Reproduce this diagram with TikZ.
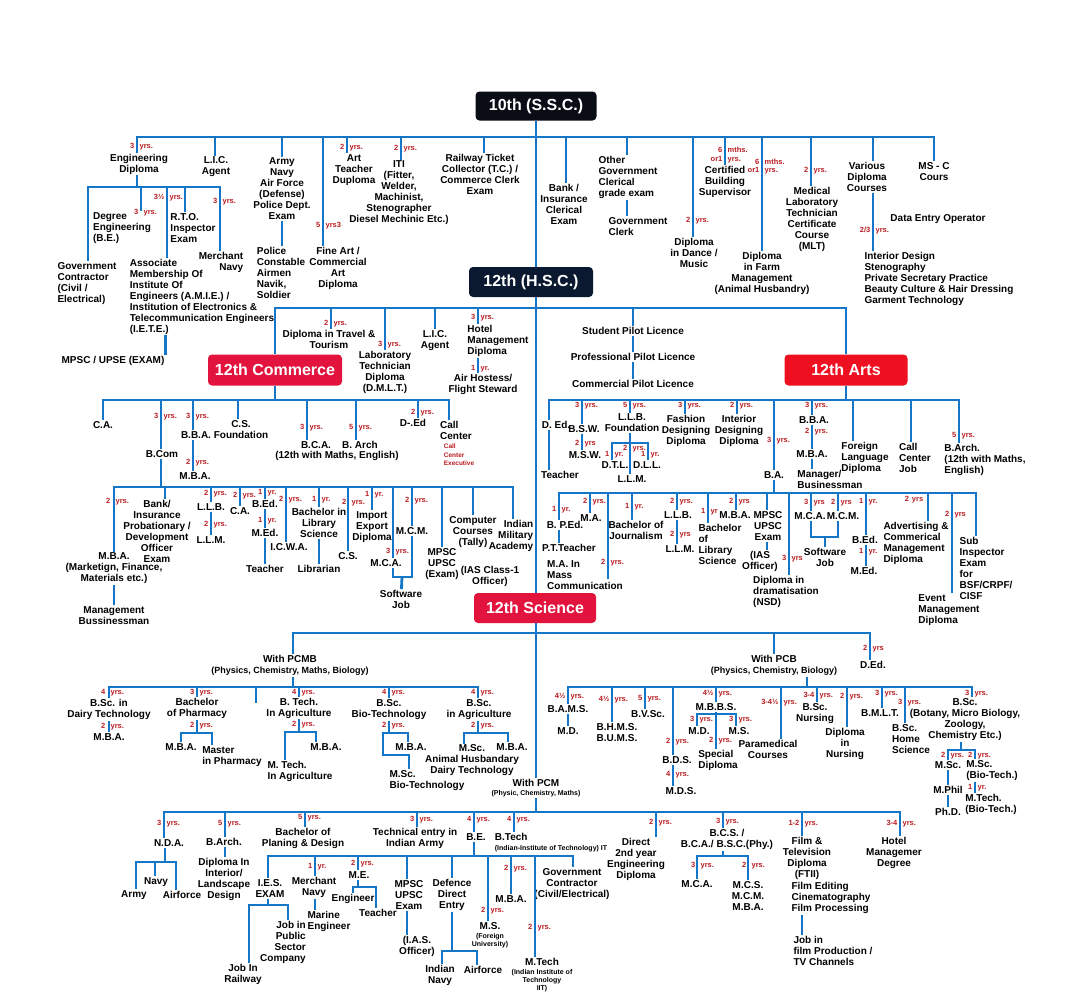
\documentclass[tikz,border=0pt]{standalone}
\usepackage{fontspec}
\setmainfont{Liberation Sans}
\usepackage{xcolor}
\definecolor{linkblue}{RGB}{20,118,198}
\definecolor{durred}{RGB}{185,30,35}
\definecolor{sscblack}{RGB}{10,12,22}
\definecolor{hscnavy}{RGB}{10,24,48}
\definecolor{streamred}{RGB}{226,20,62}
\definecolor{artsred}{RGB}{238,16,32}
\newcommand\dd[2]{\llap{#1\hspace{2.6pt}}\rlap{\hspace{2.6pt}#2}}
\newcommand\sm{\fontsize{7}{8}\selectfont}

\begin{document}
\begin{tikzpicture}[
  x=1pt, y=-1pt,
  stream/.style={rounded corners=4pt, text=white, font=\fontsize{16}{18}\selectfont\bfseries, inner sep=2pt},
  course/.style={font=\fontsize{10}{11}\selectfont\bfseries, align=center, inner sep=1pt},
  coursel/.style={course, align=left},
  courser/.style={course, align=right},
  dur/.style={text=durred, font=\fontsize{7.5}{8}\selectfont\bfseries, inner sep=0pt},
  link/.style={draw=linkblue, line width=2.8pt}
]
  \fill[white] (0,0) rectangle (1080,996);
  \useasboundingbox (0,0) rectangle (1080,996);

  \node[stream, fill=sscblack, minimum width=121pt, minimum height=29pt] (ssc) at (536,106) {10th (S.S.C.)};
  \node[stream, fill=hscnavy, minimum width=124pt, minimum height=30pt] (hsc) at (531,282) {12th (H.S.C.)};
  \node[stream, fill=streamred, minimum width=134pt, minimum height=31pt] (com) at (275,370) {12th Commerce};
  \node[stream, fill=artsred, minimum width=123pt, minimum height=31pt] (arts) at (846,370) {12th Arts};
  \node[stream, fill=streamred, minimum width=122pt, minimum height=30pt] (sci) at (535,608) {12th Science};

  \coordinate (j10) at (536,137);
  \coordinate (jeng) at (137,187);
  \coordinate (jhsc) at (536,308);
  \coordinate (jcom) at (275,400);
  \coordinate (jbcom) at (161,487);
  \coordinate (jsw1) at (402,577);
  \coordinate (jarts) at (846,400);
  \coordinate (jllb) at (630,443);
  \coordinate (jba) at (774,493);
  \coordinate (jsw2) at (825,537);
  \coordinate (jsci) at (536,633);
  \coordinate (jpcmb) at (293,687);
  \coordinate (jbph) at (197,733);
  \coordinate (stub) at (256,703);
  \coordinate (jbtag) at (299,732);
  \coordinate (jbsbt) at (389,733);
  \coordinate (jmsc1) at (383,755);
  \coordinate (jbsag) at (478,733);
  \coordinate (jpcb) at (807,687);
  \coordinate (jmbbs) at (716,714);
  \coordinate (jbscb) at (961,750);
  \coordinate (jpcm) at (536,812);
  \coordinate (jnda) at (165,862);
  \coordinate (jbcs) at (723,856);
  \coordinate (jbe) at (474,856);
  \coordinate (jies) at (268,905);
  \coordinate (jme) at (358,887);
  \coordinate (jdef) at (452,951);

  \node[course] (eng) at (139,164) {Engineering\\Diploma};
  \node[course] (lic1) at (216,167) {L.I.C.\\Agent};
  \node[course] (army) at (282,189) {Army\\Navy\\Air Force\\(Defense)\\Police Dept.\\Exam};
  \node[coursel] (police) at (281,273) {Police\\Constable\\Airmen\\Navik,\\Soldier};
  \node[course] (fine) at (338,268) {Fine Art /\\Commercial\\Art\\Diploma};
  \node[course] (artt) at (354,170) {Art\\Teacher\\Duploma};
  \node[course] (iti) at (399,193) {ITI\\(Fitter,\\Welder,\\Machinist,\\Stenographer\\Diesel Mechinic Etc.)};
  \node[course] (rail) at (480,174.5) {Railway Ticket\\Collector (T.C.) /\\Commerce Clerk\\Exam};
  \node[course] (bank) at (564,204) {Bank /\\Insurance\\Clerical\\Exam};
  \node[coursel] (othgov) at (628,177.5) {Other\\Government\\Clerical\\grade exam};
  \node[coursel] (gclerk) at (638,226.5) {Government\\Clerk};
  \node[course] (dance) at (694,253) {Diploma\\in Dance /\\Music};
  \node[course] (cert) at (725,182) {Certified\\Building\\Supervisor};
  \node[course] (farm) at (762,273) {Diploma\\in Farm\\Management\\(Animal Husbandry)};
  \node[course] (mlt) at (812,219.5) {Medical\\Laboratory\\Technician\\Certificate\\Course\\(MLT)};
  \node[course] (various) at (867,177) {Various\\Diploma\\Courses};
  \node[coursel] (dentry) at (938,219) {Data Entry Operator};
  \node[coursel] (ints) at (939,278.5) {Interior Design\\Stenography\\Private Secretary Practice\\Beauty Culture \& Hair Dressing\\Garment Technology};
  \node[course] (msc) at (934,171.5) {MS - C\\Cours};

  \node[coursel] (gov) at (87,283.5) {Government\\Contractor\\(Civil /\\Electrical)};
  \node[coursel] (deg) at (122,228) {Degree\\Engineering\\(B.E.)};
  \node[coursel] (amie) at (202,296.5) {Associate\\Membership Of\\Institute Of\\Engineers (A.M.I.E.) /\\Institution of Electronics \&\\Telecommunication Engineers\\(I.E.T.E.)};
  \node[coursel] (rto) at (193,228) {R.T.O.\\Inspector\\Exam};
  \node[courser] (merch) at (221,262.5) {Merchant\\Navy};
  \node[course] (mpsc1) at (113,361) {MPSC / UPSE (EXAM)};

  \node[course] (travel) at (329,339.5) {Diploma in Travel \&\\Tourism};
  \node[course] (dmlt) at (385,372.5) {Laboratory\\Technician\\Diploma\\(D.M.L.T.)};
  \node[course] (lic2) at (435,340.5) {L.I.C.\\Agent};
  \node[coursel] (hotel) at (498,341) {Hotel\\Management\\Diploma};
  \node[course] (air) at (483,384.5) {Air Hostess/\\Flight Steward};
  \node[course] (spl) at (633,331) {Student Pilot Licence};
  \node[course] (ppl) at (633,357) {Professional Pilot Licence};
  \node[course] (cpl) at (633,384) {Commercial Pilot Licence};

  \node[course] (ca1) at (103,425) {C.A.};
  \node[course] (bcom) at (162,454) {B.Com};
  \node[course] (bba1) at (196,435) {B.B.A.};
  \node[course] (csf) at (241,429.5) {C.S.\\Foundation};
  \node[course] (mba1) at (195,476) {M.B.A.};
  \node[course] (bca1) at (316,445) {B.C.A.};
  \node[course] (barch1) at (360,445) {B. Arch};
  \node[course] (wmaths1) at (337,456) {(12th with Maths, English)};
  \node[course] (ded1) at (413,423) {D-.Ed};
  \node[coursel] (callc) at (456,430.5) {Call\\Center};
  \node[coursel, text=durred, font=\fontsize{6.5}{8.5}\selectfont\bfseries] (callx) at (459,455) {Call\\Center\\Executive};

  \node[course] (mbamk) at (114,568.5) {M.B.A.\\(Marketign, Finance,\\Materials etc.)};
  \node[course] (mgmt) at (114,615.5) {Management\\Bussinessman};
  \node[course] (bankpo) at (157,531) {Bank/\\Insurance\\Probationary /\\Development\\Officer\\Exam};
  \node[course] (llb1) at (211,507) {L.L.B.};
  \node[course] (llm1) at (211,540) {L.L.M.};
  \node[course] (ca2) at (240,511) {C.A.};
  \node[course] (bed1) at (265,504) {B.Ed.};
  \node[course] (med1) at (265,533) {M.Ed.};
  \node[course] (teach1) at (265,569) {Teacher};
  \node[course] (icwa) at (289,547) {I.C.W.A.};
  \node[course] (blib1) at (319,523) {Bachelor in\\Library\\Science};
  \node[course] (libr) at (319,569) {Librarian};
  \node[course] (cs2) at (348,556) {C.S.};
  \node[course] (impex) at (372,527) {Import\\Export\\Diploma};
  \node[course] (mca1) at (386,563) {M.C.A.};
  \node[course] (mcm1) at (412,531) {M.C.M.};
  \node[course] (swjob1) at (401,599.5) {Software\\Job};
  \node[course] (mpsc2) at (442,564) {MPSC\\UPSC\\(Exam)};
  \node[course] (ias1) at (490,576.5) {(IAS Class-1\\Officer)};
  \node[course] (comp) at (473,532) {Computer\\Courses\\(Tally)};
  \node[courser] (ima) at (511,536) {Indian\\Military\\Academy};

  \node[course] (ded2) at (556,425) {D. Ed.};
  \node[course] (teach2) at (560,475) {Teacher};
  \node[course] (bsw) at (584,429) {B.S.W.};
  \node[course] (msw) at (585,455) {M.S.W.};
  \node[course] (llbf) at (632,423) {L.L.B.\\Foundation};
  \node[course] (dtl) at (615,465) {D.T.L.};
  \node[course] (dll) at (647,465) {D.L.L.};
  \node[course] (llm2) at (632,479) {L.L.M.};
  \node[course] (fash) at (686,431) {Fashion\\Designing\\Diploma};
  \node[course] (intd) at (739,431) {Interior\\Designing\\Diploma};
  \node[course] (ba) at (774,475) {B.A.};
  \node[course] (bba2) at (814,420) {B.B.A.};
  \node[course] (mba2) at (812,454) {M.B.A.};
  \node[coursel] (mgr) at (830,479.5) {Manager/\\Businessman};
  \node[coursel] (flang) at (865,458) {Foreign\\Language\\Diploma};
  \node[coursel] (ccj) at (915,458) {Call\\Center\\Job};
  \node[coursel] (barch2) at (985,460) {B.Arch.\\(12th with Maths,\\English)};

  \node[course] (bped) at (565,525) {B. P.Ed.};
  \node[course] (ptt) at (569,548) {P.T.Teacher};
  \node[course] (ma1) at (591,518) {M.A.};
  \node[coursel] (masscom) at (585,575.5) {M.A. In\\Mass\\Communication};
  \node[course] (bjour) at (636,530.5) {Bachelor of\\Journalism};
  \node[course] (llb2) at (678,515) {L.L.B.};
  \node[course] (llm3) at (680,549) {L.L.M.};
  \node[coursel] (blib2) at (720,544) {Bachelor\\of\\Library\\Science};
  \node[course] (mba3) at (735,515) {M.B.A.};
  \node[course] (mpsc3) at (768,526) {MPSC\\UPSC\\Exam};
  \node[course] (ias2) at (760,561.5) {(IAS\\Officer)};
  \node[coursel] (dram) at (786,592) {Diploma in\\dramatisation\\(NSD)};
  \node[course] (mca2) at (810,516) {M.C.A.};
  \node[course] (mcm2) at (843,516) {M.C.M.};
  \node[course] (swjob2) at (825,557.5) {Software\\Job};
  \node[course] (bed2) at (865,540) {B.Ed.};
  \node[course] (med2) at (864,571) {M.Ed.};
  \node[coursel] (advt) at (916,543.5) {Advertising \&\\Commerical\\Management\\Diploma};
  \node[coursel] (event) at (949,610) {Event\\Management\\Diploma};
  \node[coursel] (sub) at (986,568.5) {Sub\\Inspector\\Exam\\for\\BSF/CRPF/\\CISF};

  \node[course] (pcmb) at (290,665.5) {With PCMB\\{\fontsize{9}{11}\selectfont (Physics, Chemistry, Maths, Biology)}};
  \node[course] (pcb) at (774,665.5) {With PCB\\{\fontsize{9}{11}\selectfont (Physics, Chemistry, Biology)}};
  \node[course] (ded3) at (873,665) {D.Ed.};
  \node[course] (pcm) at (536,788) {With PCM\\[-2pt]{\sm (Physic, Chemistry, Maths)}};

  \node[course] (bscd) at (109,709.5) {B.Sc. in\\Dairy Technology};
  \node[course] (mba4) at (109,737) {M.B.A.};
  \node[course] (bph) at (197,708.5) {Bachelor\\of Pharmacy};
  \node[course] (mba5) at (181,747) {M.B.A.};
  \node[coursel] (master) at (232,756.5) {Master\\in Pharmacy};
  \node[course] (btag) at (299,708) {B. Tech.\\In Agriculture};
  \node[coursel] (mtag) at (300,771.5) {M. Tech.\\In Agriculture};
  \node[course] (mba6) at (326,747) {M.B.A.};
  \node[course] (bsbt) at (389,709.5) {B.Sc.\\Bio-Technology};
  \node[coursel] (msbt) at (427,780.5) {M.Sc.\\Bio-Technology};
  \node[course] (mba7) at (411,747) {M.B.A.};
  \node[course] (bsag) at (479,709.5) {B.Sc.\\in Agriculture};
  \node[course] (mscah) at (472,760.5) {M.Sc.\\Animal Husbandary\\Dairy Technology};
  \node[course] (mba8) at (512,747) {M.B.A.};

  \node[course] (bams) at (568,709) {B.A.M.S.};
  \node[course] (md1) at (568,731) {M.D.};
  \node[course] (bhms) at (617,732.5) {B.H.M.S.\\B.U.M.S.};
  \node[course] (bvsc) at (648,714) {B.V.Sc.};
  \node[course] (bds) at (677,760) {B.D.S.};
  \node[course] (mds) at (681,791) {M.D.S.};
  \node[course] (mbbs) at (716,707) {M.B.B.S.};
  \node[course] (md2) at (699,731) {M.D.};
  \node[course] (ms1) at (739,731) {M.S.};
  \node[coursel] (special) at (718,760.5) {Special\\Diploma};
  \node[course] (para) at (768,749.5) {Paramedical\\Courses};
  \node[course] (bscn) at (815,713.5) {B.Sc.\\Nursing};
  \node[course] (dnur) at (845,744) {Diploma\\in\\Nursing};
  \node[course] (bmlt) at (880,713) {B.M.L.T.};
  \node[coursel] (bhsc) at (911,739) {B.Sc.\\Home\\Science};
  \node[course] (bscb) at (965,719.5) {B.Sc.\\(Botany, Micro Biology,\\Zoology,\\Chemistry Etc.)};
  \node[course] (msc2) at (948,765) {M.Sc.};
  \node[coursel] (mscbt) at (992,770.5) {M.Sc.\\(Bio-Tech.)};
  \node[course] (mphil) at (948,790) {M.Phil};
  \node[course] (phd) at (948,812) {Ph.D.};
  \node[coursel] (mtbt) at (991,804) {M.Tech.\\(Bio-Tech.)};

  \node[course] (nda) at (169,843) {N.D.A.};
  \node[course] (army2) at (134,895) {Army};
  \node[course] (navy2) at (156,882) {Navy};
  \node[course] (airf1) at (182,895) {Airforce};
  \node[course] (barch3) at (224,842) {B.Arch.};
  \node[course] (dipint) at (224,879.5) {Diploma In\\Interior/\\Landscape\\Design};
  \node[course] (bpd) at (303,838.5) {Bachelor of\\Planing \& Design};
  \node[course] (tech) at (415,838.5) {Technical entry in\\Indian Army};
  \node[course] (be) at (476,837) {B.E.};
  \node[coursel] (btech) at (551,843) {B.Tech\\[-1pt]{\sm (Indian-Institute of Technology) IT}};
  \node[course] (direct) at (636,859.5) {Direct\\2nd year\\Engineering\\Diploma};
  \node[course] (bcs) at (727,839.5) {B.C.S. /\\B.C.A./ B.S.C.(Phy.)};
  \node[course] (mca3) at (697,884) {M.C.A.};
  \node[course] (mcs) at (748,896) {M.C.S.\\M.C.M.\\M.B.A.};
  \node[course] (film) at (807,858.5) {Film \&\\Television\\Diploma\\(FTII)};
  \node[coursel] (filmsub) at (831,898) {Film Editing\\Cinematography\\Film Processing};
  \node[coursel] (jobfilm) at (833,951) {Job in\\film Production /\\TV Channels};
  \node[course] (hotel2) at (894,853) {Hotel\\Managemer\\Degree};

  \node[course] (ies) at (270,888.5) {I.E.S.\\EXAM};
  \node[course] (jobrail) at (243,974.5) {Job In\\Railway};
  \node[courser] (jobpsu) at (283,942.5) {Job in\\Public\\Sector\\Company};
  \node[course] (mnavy) at (314,887.5) {Merchant\\Navy};
  \node[coursel] (marine) at (329,921.5) {Marine\\Engineer};
  \node[course] (me) at (359,875) {M.E.};
  \node[course] (eng2) at (353,899) {Engineer};
  \node[course] (teach3) at (378,913) {Teacher};
  \node[course] (mpsc4) at (409,895) {MPSC\\UPSC\\Exam};
  \node[course] (ias3) at (417,946.5) {(I.A.S.\\Officer)};
  \node[course] (defence) at (452,895) {Defence\\Direct\\Entry};
  \node[course] (inavy) at (440,975.5) {Indian\\Navy};
  \node[course] (airf2) at (483,970) {Airforce};
  \node[course] (ms2) at (490,935) {M.S.\\[-2pt]{\sm (Foreign}\\[-3pt]{\sm University)}};
  \node[course] (mba9) at (511,899) {M.B.A.};
  \node[course] (mtech) at (542,975) {M.Tech\\[-2pt]{\sm (Indian Institute of}\\[-3pt]{\sm Technology}\\[-3pt]{\sm IIT)}};
  \node[course] (govc) at (572,884) {Government\\Contractor\\(Civil/Electrical)};

  \node[dur] (y1) at (137,147) {\dd{3}{yrs.}};
  \node[dur] (y2) at (347,148) {\dd{2}{yrs.}};
  \node[dur] (y3) at (401,149) {\dd{2}{yrs.}};
  \node[dur] (y4) at (323,226) {\dd{5}{yrs3}};
  \node[dur] (y5) at (693,221) {\dd{2}{yrs.}};
  \node[dur] (y6) at (725,150) {\dd{6}{mths.}};
  \node[dur] (y7) at (725,160) {\dd{or1}{yrs.}};
  \node[dur] (y8) at (762,162) {\dd{6}{mths.}};
  \node[dur] (y9) at (762,171) {\dd{or1}{yrs.}};
  \node[dur] (y10) at (811,171) {\dd{2}{yrs.}};
  \node[dur] (y11) at (873,231) {\dd{2/3}{yrs.}};
  \node[dur] (y12) at (141,213) {\dd{3}{yrs.}};
  \node[dur] (y13) at (167,198) {\dd{3½}{yrs.}};
  \node[dur] (y14) at (220,202) {\dd{3}{yrs.}};
  \node[dur] (y15) at (331,324) {\dd{2}{yrs.}};
  \node[dur] (y16) at (385,345) {\dd{3}{yrs.}};
  \node[dur] (y17) at (478,318) {\dd{3}{yrs.}};
  \node[dur] (y18) at (478,369) {\dd{1}{yr.}};
  \node[dur] (y19) at (161,417) {\dd{3}{yrs.}};
  \node[dur] (y20) at (193,417) {\dd{3}{yrs.}};
  \node[dur] (y21) at (193,463) {\dd{2}{yrs.}};
  \node[dur] (y22) at (307,428) {\dd{3}{yrs.}};
  \node[dur] (y23) at (356,428) {\dd{5}{yrs.}};
  \node[dur] (y24) at (418,413) {\dd{2}{yrs.}};
  \node[dur] (y25) at (113,502) {\dd{2}{yrs.}};
  \node[dur] (y26) at (211,494) {\dd{2}{yrs.}};
  \node[dur] (y27) at (211,525) {\dd{2}{yrs.}};
  \node[dur] (y28) at (240,496) {\dd{2}{yrs.}};
  \node[dur] (y29) at (265,493) {\dd{1}{yr.}};
  \node[dur] (y30) at (265,521) {\dd{1}{yr.}};
  \node[dur] (y31) at (286,500) {\dd{2}{yrs.}};
  \node[dur] (y32) at (319,500) {\dd{1}{yr.}};
  \node[dur] (y33) at (349,503) {\dd{2}{yrs.}};
  \node[dur] (y34) at (372,495) {\dd{1}{yr.}};
  \node[dur] (y35) at (393,552) {\dd{3}{yrs.}};
  \node[dur] (y36) at (412,501) {\dd{2}{yrs.}};
  \node[dur] (y37) at (582,406) {\dd{3}{yrs.}};
  \node[dur] (y38) at (582,444) {\dd{2}{yrs}};
  \node[dur] (y39) at (630,406) {\dd{5}{yrs.}};
  \node[dur] (y40) at (630,449) {\dd{2}{yrs.}};
  \node[dur] (y41) at (612,455) {\dd{1}{yr.}};
  \node[dur] (y42) at (648,455) {\dd{1}{yr.}};
  \node[dur] (y43) at (685,406) {\dd{3}{yrs.}};
  \node[dur] (y44) at (737,406) {\dd{2}{yrs.}};
  \node[dur] (y45) at (774,441) {\dd{3}{yrs.}};
  \node[dur] (y46) at (812,406) {\dd{3}{yrs.}};
  \node[dur] (y47) at (812,432) {\dd{2}{yrs.}};
  \node[dur] (y48) at (959,436) {\dd{5}{yrs.}};
  \node[dur] (y49) at (559,510) {\dd{1}{yr.}};
  \node[dur] (y50) at (590,502) {\dd{2}{yrs.}};
  \node[dur] (y51) at (608,563) {\dd{2}{yrs.}};
  \node[dur] (y52) at (632,507) {\dd{1}{yr.}};
  \node[dur] (y53) at (677,502) {\dd{2}{yrs.}};
  \node[dur] (y54) at (677,535) {\dd{2}{yrs}};
  \node[dur] (y55) at (708,512) {\dd{1}{yr}};
  \node[dur] (y56) at (736,502) {\dd{2}{yrs}};
  \node[dur] (y57) at (789,559) {\dd{3}{yrs}};
  \node[dur] (y58) at (811,503) {\dd{3}{yrs}};
  \node[dur] (y59) at (838,503) {\dd{2}{yrs}};
  \node[dur] (y60) at (866,502) {\dd{1}{yr.}};
  \node[dur] (y61) at (866,552) {\dd{1}{yr.}};
  \node[dur] (y62) at (914,500) {2\hspace{3pt}yrs};
  \node[dur] (y63) at (952,515) {\dd{2}{yrs}};
  \node[dur] (y64) at (870,649) {\dd{2}{yrs}};
  \node[dur] (y65) at (108,693) {\dd{4}{yrs.}};
  \node[dur] (y66) at (108,727) {\dd{2}{yrs.}};
  \node[dur] (y67) at (197,693) {\dd{3}{yrs.}};
  \node[dur] (y68) at (197,726) {\dd{2}{yrs.}};
  \node[dur] (y69) at (299,693) {\dd{4}{yrs.}};
  \node[dur] (y70) at (299,725) {\dd{2}{yrs.}};
  \node[dur] (y71) at (389,693) {\dd{4}{yrs.}};
  \node[dur] (y72) at (389,726) {\dd{2}{yrs.}};
  \node[dur] (y73) at (478,693) {\dd{4}{yrs.}};
  \node[dur] (y74) at (478,726) {\dd{2}{yrs.}};
  \node[dur] (y75) at (568,697) {\dd{4½}{yrs.}};
  \node[dur] (y76) at (612,700) {\dd{4½}{yrs.}};
  \node[dur] (y77) at (645,699) {\dd{5}{yrs.}};
  \node[dur] (y78) at (673,742) {\dd{2}{yrs.}};
  \node[dur] (y79) at (673,775) {\dd{4}{yrs.}};
  \node[dur] (y80) at (716,694) {\dd{4½}{yrs.}};
  \node[dur] (y81) at (697,720) {\dd{3}{yrs.}};
  \node[dur] (y82) at (736,720) {\dd{3}{yrs.}};
  \node[dur] (y83) at (716,741) {\dd{2}{yrs.}};
  \node[dur] (y84) at (781,703) {\dd{3-4½}{yrs.}};
  \node[dur] (y85) at (817,696) {\dd{3-4}{yrs.}};
  \node[dur] (y86) at (847,697) {\dd{2}{yrs.}};
  \node[dur] (y87) at (882,694) {\dd{3}{yrs.}};
  \node[dur] (y88) at (905,703) {\dd{3}{yrs.}};
  \node[dur] (y89) at (972,694) {\dd{3}{yrs.}};
  \node[dur] (y90) at (948,756) {\dd{2}{yrs.}};
  \node[dur] (y91) at (975,756) {\dd{2}{yrs.}};
  \node[dur] (y92) at (975,788) {\dd{1}{yr.}};
  \node[dur] (y93) at (164,824) {\dd{3}{yrs.}};
  \node[dur] (y94) at (225,824) {\dd{5}{yrs.}};
  \node[dur] (y95) at (305,818) {\dd{5}{yrs.}};
  \node[dur] (y96) at (417,820) {\dd{3}{yrs.}};
  \node[dur] (y97) at (474,820) {\dd{4}{yrs.}};
  \node[dur] (y98) at (514,820) {\dd{4}{yrs.}};
  \node[dur] (y99) at (656,823) {\dd{2}{yrs.}};
  \node[dur] (y100) at (723,822) {\dd{3}{yrs.}};
  \node[dur] (y101) at (698,866) {\dd{3}{yrs.}};
  \node[dur] (y102) at (749,866) {\dd{2}{yrs.}};
  \node[dur] (y103) at (802,824) {\dd{1-2}{yrs.}};
  \node[dur] (y104) at (900,824) {\dd{3-4}{yrs.}};
  \node[dur] (y105) at (315,867) {\dd{1}{yr.}};
  \node[dur] (y106) at (358,864) {\dd{2}{yrs.}};
  \node[dur] (y107) at (488,911) {\dd{2}{yrs.}};
  \node[dur] (y108) at (511,869) {\dd{2}{yrs.}};
  \node[dur] (y109) at (535,928) {\dd{2}{yrs.}};

  \draw[link] (ssc) -- (ssc |- hsc.north);
  \draw[link] (ssc |- hsc.south) -- (ssc |- sci.north);
  \draw[link] (ssc |- sci.south) -- (pcm);
  \draw[link] (j10) -| ([xshift=-2]eng.north);
  \draw[link] (j10) -| ([xshift=-1]lic1.north);
  \draw[link] (j10) -| (army);
  \draw[link] (army.south) -- (army.south |- police.north);
  \draw[link] (j10) -| ([xshift=-15]fine.north);
  \draw[link] (j10) -| ([xshift=-7]artt.north);
  \draw[link] (j10) -| ([xshift=2]iti.north);
  \draw[link] (j10) -| ([xshift=4]rail.north);
  \draw[link] (j10) -| ([xshift=2]bank.north);
  \draw[link] (j10) -| ([xshift=-1]othgov.north);
  \draw[link] ([xshift=-1]othgov.south) -- ([xshift=-1]othgov.south |- gclerk.north);
  \draw[link] (j10) -| ([xshift=-1]dance.north);
  \draw[link] (j10) -| (cert);
  \draw[link] (j10) -| (farm);
  \draw[link] (j10) -| ([xshift=-1]mlt.north);
  \draw[link] (j10) -| ([xshift=6]various.north);
  \draw[link] ([xshift=6]various.south) -- ([xshift=6]various.south |- ints.north);
  \draw[link] (j10) -| (msc);

  \draw[link] (eng.south -| jeng) -- (jeng);
  \draw[link] (jeng) -| ([xshift=1]gov.north);
  \draw[link] (jeng) -| ([xshift=19]deg.north);
  \draw[link] (jeng) -| ([xshift=-35]amie.north);
  \draw[link] (jeng) -| ([xshift=-8]rto.north);
  \draw[link] (jeng) -| ([xshift=-1]merch.north);
  \draw[link] (amie.south -| mpsc1.north east) -- (mpsc1.north east);

  \draw[link] (jhsc) -| (com);
  \draw[link] (jhsc) -| ([xshift=2]travel.north);
  \draw[link] (jhsc) -| (dmlt);
  \draw[link] (jhsc) -| (lic2);
  \draw[link] (jhsc) -| ([xshift=-20]hotel.north);
  \draw[link] ([xshift=-20]hotel.south) -- ([xshift=-5]air.north);
  \draw[link] (jhsc) -| (spl);
  \draw[link] (spl) -- (ppl);
  \draw[link] (ppl) -- (cpl);
  \draw[link] (jhsc) -| (arts);

  \draw[link] (com) -- (jcom);
  \draw[link] (jcom) -| (ca1);
  \draw[link] (jcom) -| ([xshift=-1]bcom.north);
  \draw[link] (jcom) -| ([xshift=-3]bba1.north);
  \draw[link] (jcom) -| ([xshift=-3]csf.north);
  \draw[link] (jcom) -| ([xshift=-9]bca1.north);
  \draw[link] (jcom) -| ([xshift=-4]barch1.north);
  \draw[link] (jcom) -| ([xshift=5]ded1.north);
  \draw[link] (jcom) -| ([xshift=-7]callc.north);
  \draw[link] ([xshift=-3]bba1.south) -- ([xshift=-3]bba1.south |- mba1.north);

  \draw[link] ([xshift=-1]bcom.south) -- (jbcom);
  \draw[link] (jbcom) -| (mbamk);
  \draw[link] (mbamk) -- (mgmt);
  \draw[link] (jbcom) -| ([xshift=8]bankpo.north);
  \draw[link] (jbcom) -| (llb1);
  \draw[link] (llb1) -- (llm1);
  \draw[link] (jbcom) -| (ca2);
  \draw[link] (jbcom) -| (bed1);
  \draw[link] (bed1) -- (med1);
  \draw[link] (med1) -- (teach1);
  \draw[link] (jbcom) -| ([xshift=-3]icwa.north);
  \draw[link] (jbcom) -| (blib1);
  \draw[link] (blib1) -- (libr);
  \draw[link] (jbcom) -| (cs2);
  \draw[link] (jbcom) -| (impex);
  \draw[link] (jbcom) -| ([xshift=7]mca1.north);
  \draw[link] (jbcom) -| (mcm1);
  \draw[link] ([xshift=7]mca1.south) |- (jsw1) -| (mcm1.south);
  \draw[link] (jsw1) -- (swjob1);
  \draw[link] (jbcom) -| (mpsc2);
  \draw[link] (jbcom) -| (comp);
  \draw[link] (jbcom) -| ([xshift=2]ima.north);

  \draw[link] (arts) -- (jarts);
  \draw[link] (jarts) -| ([xshift=-7]ded2.north);
  \draw[link] ([xshift=-7]ded2.south) -- ([xshift=-7]ded2.south |- teach2.north);
  \draw[link] (jarts) -| ([xshift=-2]bsw.north);
  \draw[link] ([xshift=-2]bsw.south) -- ([xshift=-2]bsw.south |- msw.north);
  \draw[link] (jarts) -| ([xshift=-2]llbf.north);
  \draw[link] ([xshift=-2]llbf.south) -- ([xshift=-2]llbf.south |- llm2.north);
  \draw[link] (jllb) -| ([xshift=-3]dtl.north);
  \draw[link] (jllb) -| ([xshift=1]dll.north);
  \draw[link] (jarts) -| ([xshift=-1]fash.north);
  \draw[link] (jarts) -| ([xshift=-2]intd.north);
  \draw[link] (jarts) -| (ba);
  \draw[link] (jarts) -| ([xshift=-2]bba2.north);
  \draw[link] ([xshift=-2]bba2.south) -- (mba2);
  \draw[link] (mba2.south) -- (mba2.south |- mgr.north);
  \draw[link] (jarts) -| ([xshift=-12]flang.north);
  \draw[link] (jarts) -| ([xshift=-4]ccj.north);
  \draw[link] (jarts) -| ([xshift=-26]barch2.north);

  \draw[link] (ba) -- (jba);
  \draw[link] (jba) -| ([xshift=-6]bped.north);
  \draw[link] ([xshift=-6]bped.south) -- ([xshift=-6]bped.south |- ptt.north);
  \draw[link] (jba) -| ([xshift=-1]ma1.north);
  \draw[link] (jba) -| ([xshift=-16,yshift=-3]masscom.east);
  \draw[link] (jba) -| ([xshift=-4]bjour.north);
  \draw[link] (jba) -| ([xshift=-1]llb2.north);
  \draw[link] ([xshift=-1]llb2.south) -- ([xshift=-1]llb2.south |- llm3.north);
  \draw[link] (jba) -| ([xshift=-12]blib2.north);
  \draw[link] (jba) -| ([xshift=1]mba3.north);
  \draw[link] (jba) -| ([xshift=-1]mpsc3.north);
  \draw[link] ([xshift=-1]mpsc3.south) -- ([xshift=-1]mpsc3.south |- ias2.north);
  \draw[link] (jba) -| ([xshift=3]dram.north);
  \draw[link] (jba) -| ([xshift=1]mca2.north);
  \draw[link] (jba) -| ([xshift=-5]mcm2.north);
  \draw[link] ([xshift=1]mca2.south) |- (jsw2) -| ([xshift=-5]mcm2.south);
  \draw[link] (jsw2) -- (swjob2);
  \draw[link] (jba) -| ([xshift=1]bed2.north);
  \draw[link] ([xshift=1]bed2.south) -- ([xshift=1]bed2.south |- med2.north);
  \draw[link] (jba) -| ([xshift=12]advt.north);
  \draw[link] (jba) -| ([xshift=3]event.north);
  \draw[link] (jba) -| ([xshift=-10]sub.north);

  \draw[link] (jsci) -| ([xshift=3]pcmb.north);
  \draw[link] (jsci) -| (pcb);
  \draw[link] (jsci) -| ([xshift=-3]ded3.north);
  \draw[link] (pcmb.south -| jpcmb) -- (jpcmb);
  \draw[link] (jpcmb) -| (bscd);
  \draw[link] (bscd) -- (mba4);
  \draw[link] (jpcmb) -| (bph);
  \draw[link] (bph) -- (jbph);
  \draw[link] (jbph) -| (mba5);
  \draw[link] (jbph) -| ([xshift=-20]master.north);
  \draw[link] (jpcmb) -| (stub);
  \draw[link] (jpcmb) -| (btag);
  \draw[link] (btag) -- (jbtag);
  \draw[link] (jbtag) -| ([xshift=-15]mtag.north);
  \draw[link] (jbtag) -| ([xshift=-10]mba6.north);
  \draw[link] (jpcmb) -| (bsbt);
  \draw[link] (bsbt) -- (jbsbt);
  \draw[link] (jbsbt) -| (jmsc1) -| ([xshift=-18]msbt.north);
  \draw[link] (jbsbt) -| ([xshift=-3]mba7.north);
  \draw[link] (jpcmb) -| ([xshift=-1]bsag.north);
  \draw[link] ([xshift=-1]bsag.south) -- (jbsag);
  \draw[link] (jbsag) -| ([xshift=-8]mscah.north);
  \draw[link] (jbsag) -| ([xshift=-4]mba8.north);

  \draw[link] (pcb.south -| jpcb) -- (jpcb);
  \draw[link] (jpcb) -| (bams);
  \draw[link] (bams) -- (md1);
  \draw[link] (jpcb) -| ([xshift=-5]bhms.north);
  \draw[link] (jpcb) -| ([xshift=-3]bvsc.north);
  \draw[link] (jpcb) -| ([xshift=-4]bds.north);
  \draw[link] ([xshift=-4]bds.south) -- ([xshift=-4]bds.south |- mds.north);
  \draw[link] (jpcb) -| (mbbs);
  \draw[link] (mbbs.south) -- ([xshift=-2]special.north);
  \draw[link] (jmbbs) -| ([xshift=-2]md2.north);
  \draw[link] (jmbbs) -| ([xshift=-3]ms1.north);
  \draw[link] (jpcb) -| ([xshift=13]para.north);
  \draw[link] (jpcb) -| ([xshift=2]bscn.north);
  \draw[link] (jpcb) -| ([xshift=2]dnur.north);
  \draw[link] (jpcb) -| ([xshift=2]bmlt.north);
  \draw[link] (jpcb) -| ([xshift=-6]bhsc.north);
  \draw[link] (jpcb) -| ([xshift=7]bscb.north);
  \draw[link] ([xshift=-4]bscb.south) -- (jbscb);
  \draw[link] (jbscb) -| (msc2);
  \draw[link] (jbscb) -| ([xshift=-17]mscbt.north);
  \draw[link] (msc2) -- (mphil);
  \draw[link] (mphil) -- (phd);
  \draw[link] ([xshift=-17]mscbt.south) -- ([xshift=-17]mscbt.south |- mtbt.north);

  \draw[link] (pcm) -- (jpcm);
  \draw[link] (jpcm) -| ([xshift=-5]nda.north);
  \draw[link] ([xshift=-4]nda.south) -- (jnda);
  \draw[link] (jnda) -| ([xshift=2]army2.north);
  \draw[link] (jnda) -| ([xshift=-1]navy2.north);
  \draw[link] (jnda) -| ([xshift=-6]airf1.north);
  \draw[link] (jpcm) -| ([xshift=1]barch3.north);
  \draw[link] ([xshift=1]barch3.south) -- ([xshift=1]barch3.south |- dipint.north);
  \draw[link] (jpcm) -| ([xshift=2]bpd.north);
  \draw[link] (jpcm) -| ([xshift=2]tech.north);
  \draw[link] (jpcm) -| ([xshift=-2]be.north);
  \draw[link] ([xshift=-2]be.south) -- (jbe);
  \draw[link] (jpcm) -| ([xshift=-37]btech.north);
  \draw[link] (jpcm) -| ([xshift=20]direct.north);
  \draw[link] (jpcm) -| ([xshift=-4]bcs.north);
  \draw[link] ([xshift=-4]bcs.south) -- (jbcs);
  \draw[link] (jbcs) -| (mca3);
  \draw[link] (jbcs) -| (mcs);
  \draw[link] (jpcm) -| ([xshift=-5]film.north);
  \draw[link] ([xshift=-29]filmsub.south) -- ([xshift=-29]filmsub.south |- jobfilm.north);
  \draw[link] (jpcm) -| ([xshift=6]hotel2.north);

  \draw[link] (jbe) -| ([xshift=-2]ies.north);
  \draw[link] ([xshift=-2]ies.south) -- (jies);
  \draw[link] (jies) -| ([xshift=6]jobrail.north);
  \draw[link] (jies) -| ([xshift=5]jobpsu.north);
  \draw[link] (jbe) -| ([xshift=1]mnavy.north);
  \draw[link] ([xshift=1]mnavy.south) -- ([xshift=1]mnavy.south |- marine.north);
  \draw[link] (jbe) -| ([xshift=-1]me.north);
  \draw[link] ([xshift=-1]me.south) -- (jme);
  \draw[link] (jme) -| (eng2);
  \draw[link] (jme) -| ([xshift=-2]teach3.north);
  \draw[link] (jbe) -| ([xshift=-2]mpsc4.north);
  \draw[link] ([xshift=-2]mpsc4.south) -- ([xshift=-2]mpsc4.south |- ias3.north);
  \draw[link] (jbe) -| (defence);
  \draw[link] (defence) -- (jdef);
  \draw[link] (jdef) -| ([xshift=2]inavy.north);
  \draw[link] (jdef) -| ([xshift=-6]airf2.north);
  \draw[link] (jbe) -| ([xshift=-2]ms2.north);
  \draw[link] (jbe) -| (mba9);
  \draw[link] (jbe) -| ([xshift=-7]mtech.north);
  \draw[link] (jbe) -| ([xshift=1]govc.north);
\end{tikzpicture}
\end{document}
